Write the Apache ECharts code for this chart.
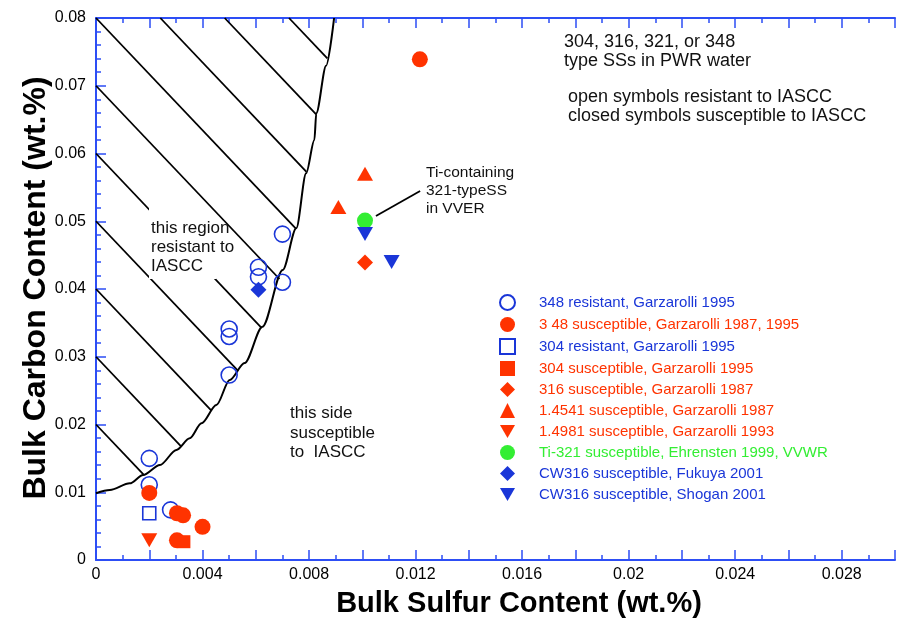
<!DOCTYPE html>
<html><head><meta charset="utf-8">
<script src="https://cdn.jsdelivr.net/npm/echarts@6/dist/echarts.min.js"></script>
<style>html,body{margin:0;padding:0;background:#fff}#c{width:898px;height:618px}</style>
</head><body><div id="c"></div>
<script>
const FONT = '"Liberation Sans", Arial, Helvetica, sans-serif';
const RED = '#ff3300', BLUE = '#1a36d8', GREEN = '#33ee33', AXIS = '#2d4ef5';

// Boundary curve between resistant (hatched) and susceptible regions
const boundaryS = [0, 0.00052, 0.00127, 0.00177, 0.0024, 0.00302, 0.00352, 0.00396, 0.00452, 0.00502, 0.00558, 0.00625, 0.00701, 0.00752, 0.00789, 0.0082, 0.00827, 0.00864, 0.00894];
const boundaryC = [0.00985, 0.01033, 0.01132, 0.01255, 0.01402, 0.01624, 0.01796, 0.02018, 0.02288, 0.02657, 0.02908, 0.03444, 0.0428, 0.04896, 0.05708, 0.062, 0.06593, 0.07296, 0.08];
// Hatch lines: C = offset - slope * S, clipped by the axes and the boundary
const hatchOffsets = [0.02, 0.03, 0.04, 0.05, 0.06, 0.07, 0.08, 0.09, 0.10, 0.11];
const hatchSlope = 4.14;

// Data series (bulk S, bulk C in wt.%)
const res348S = [0.002, 0.002, 0.0028, 0.005, 0.005, 0.005, 0.0061, 0.0061, 0.007, 0.007];
const res348C = [0.0150, 0.0111, 0.0074, 0.0341, 0.0330, 0.0273, 0.0432, 0.0418, 0.0481, 0.0410];
const sus348S = [0.002, 0.00304, 0.00327, 0.0040, 0.00304, 0.01216];
const sus348C = [0.0099, 0.0069, 0.0066, 0.0049, 0.0029, 0.0739];
const res304S = [0.002];  const res304C = [0.0069];
const sus304S = [0.0033]; const sus304C = [0.0027];
const sus316S = [0.0101]; const sus316C = [0.0439];
const sus4541S = [0.0101, 0.0091]; const sus4541C = [0.0570, 0.0521];
const sus4981S = [0.002]; const sus4981C = [0.0029];
const ti321S = [0.0101]; const ti321C = [0.0501];
const fukuyaS = [0.0061]; const fukuyaC = [0.0399];
const shoganS = [0.0101, 0.0111]; const shoganC = [0.0481, 0.0440];
// Leader line for the Ti-containing annotation
const leaderS = [0.01051, 0.01217];
const leaderC = [0.05077, 0.05446];

const legendNames = [
  '348 resistant, Garzarolli 1995',
  '3 48 susceptible, Garzarolli 1987, 1995',
  '304 resistant, Garzarolli 1995',
  '304 susceptible, Garzarolli 1995',
  '316 susceptible, Garzarolli 1987',
  '1.4541 susceptible, Garzarolli 1987',
  '1.4981 susceptible, Garzarolli 1993',
  'Ti-321 susceptible, Ehrensten 1999, VVWR',
  'CW316 susceptible, Fukuya 2001',
  'CW316 susceptible, Shogan 2001'
];
const legendColors = [BLUE, RED, BLUE, RED, RED, RED, RED, GREEN, BLUE, BLUE];
const DOWN_TRI = 'path://M0,0 L16,0 L8,14 Z';

const zip = (a, b) => a.map((v, i) => [v, b[i]]);

function hatchSegment(c0) {
  let start;
  if (c0 <= 0.08) start = [0, c0];
  else start = [(c0 - 0.08) / hatchSlope, 0.08];
  let end = null;
  for (let i = 0; i < boundaryS.length - 1; i++) {
    const f1 = boundaryC[i] - (c0 - hatchSlope * boundaryS[i]);
    const f2 = boundaryC[i + 1] - (c0 - hatchSlope * boundaryS[i + 1]);
    if (f1 <= 0 && f2 >= 0) {
      const t = f1 / (f1 - f2);
      const s = boundaryS[i] + t * (boundaryS[i + 1] - boundaryS[i]);
      end = [s, c0 - hatchSlope * s];
      break;
    }
  }
  return end ? [start, end] : [];
}

const hatchSeries = hatchOffsets.map((c0, i) => ({
  name: 'hatch' + i, type: 'line', data: hatchSegment(c0), symbol: 'none', silent: true,
  lineStyle: { color: '#000', width: 1.8 }, z: 1, animation: false
}));

function scatter(name, S, C, symbol, size, color, open) {
  return {
    name, type: 'scatter', data: zip(S, C), symbol, symbolSize: size,
    itemStyle: open ? { color: 'rgba(255,255,255,0)', borderColor: color, borderWidth: 1.6, opacity: 1 }
                    : { color, opacity: 1 },
    z: 5, animation: false
  };
}

const series = [
  ...hatchSeries,
  { name: 'boundary', type: 'line', data: zip(boundaryS, boundaryC), symbol: 'none', silent: true,
    smooth: 0.3, smoothMonotone: 'x', lineStyle: { color: '#000', width: 2 }, z: 2, animation: false },
  { name: 'leader', type: 'line', data: zip(leaderS, leaderC), symbol: 'none', silent: true,
    lineStyle: { color: '#000', width: 1.8 }, z: 2, animation: false },
  scatter(legendNames[0], res348S, res348C, 'circle', 16, BLUE, true),
  scatter(legendNames[1], sus348S, sus348C, 'circle', 16, RED, false),
  scatter(legendNames[2], res304S, res304C, 'rect', 13, BLUE, true),
  scatter(legendNames[3], sus304S, sus304C, 'rect', 13, RED, false),
  scatter(legendNames[4], sus316S, sus316C, 'diamond', 16, RED, false),
  scatter(legendNames[5], sus4541S, sus4541C, 'triangle', [16, 14], RED, false),
  scatter(legendNames[6], sus4981S, sus4981C, DOWN_TRI, [16, 14], RED, false),
  scatter(legendNames[7], ti321S, ti321C, 'circle', 16, GREEN, false),
  scatter(legendNames[8], fukuyaS, fukuyaC, 'diamond', 16, BLUE, false),
  scatter(legendNames[9], shoganS, shoganC, DOWN_TRI, [16, 14], BLUE, false)
];

const axisCommon = {
  type: 'value',
  axisLine: { show: true, onZero: false, lineStyle: { color: AXIS, width: 2 } },
  axisTick: { show: true, inside: true, length: 10, lineStyle: { color: AXIS, width: 1.5 } },
  minorTick: { show: true, length: 5, lineStyle: { color: AXIS, width: 1.5 } },
  splitLine: { show: false },
  minorSplitLine: { show: false }
};

const xFmt = v => (Math.round(v * 1000) % 4 === 0 ? String(+v.toFixed(3)) : '');
const yFmt = v => String(+v.toFixed(2));

function txt(x, y, text, extra) {
  return Object.assign({ type: 'text', x, y, z: 100,
    style: Object.assign({ text, font: '17px ' + FONT, fill: '#111', lineHeight: 19 }, extra || {}) });
}

const option = {
  backgroundColor: '#fff',
  animation: false,
  grid: { left: 96, right: 1, top: 18, bottom: 58, containLabel: false },
  xAxis: [
    Object.assign({}, axisCommon, { position: 'bottom', min: 0, max: 0.03, interval: 0.002,
      minorTick: Object.assign({}, axisCommon.minorTick, { splitNumber: 2 }),
      axisLabel: { show: true, formatter: xFmt, margin: 7, fontSize: 16, color: '#000', fontFamily: FONT } }),
    Object.assign({}, axisCommon, { position: 'top', min: 0, max: 0.03, interval: 0.002,
      minorTick: Object.assign({}, axisCommon.minorTick, { splitNumber: 2 }),
      axisLabel: { show: false } })
  ],
  yAxis: [
    Object.assign({}, axisCommon, { position: 'left', min: 0, max: 0.08, interval: 0.01,
      minorTick: Object.assign({}, axisCommon.minorTick, { splitNumber: 5 }),
      axisLabel: { show: true, formatter: yFmt, margin: 10, fontSize: 16, color: '#000', fontFamily: FONT } })
  ],
  legend: {
    data: legendNames.map((n, i) => ({ name: n, textStyle: { color: legendColors[i] } })),
    orient: 'vertical', left: 494, top: 289, itemWidth: 15, itemHeight: 15, itemGap: 6,
    textStyle: { fontSize: 15, lineHeight: 15, fontFamily: FONT, padding: [0, 0, 0, 19] },
    selectedMode: false
  },
  series,
  graphic: [
    // white mask behind the "this region" label so the hatching stops around it
    { type: 'polygon', z: 99, silent: true,
      shape: { points: [[149, 205], [200, 205], [222, 228], [236, 240], [236, 258], [216, 258], [216, 279], [149, 279]] },
      style: { fill: '#fff' } },
    txt(564, 33, '304, 316, 321, or 348\ntype SSs in PWR water', { font: '18px ' + FONT, lineHeight: 19 }),
    txt(568, 88, 'open symbols resistant to IASCC\nclosed symbols susceptible to IASCC', { font: '18px ' + FONT, lineHeight: 18.5 }),
    txt(426, 164, 'Ti-containing\n321-typeSS\nin VVER', { font: '15.5px ' + FONT, lineHeight: 18 }),
    txt(151, 219, 'this region\nresistant to\nIASCC'),
    txt(290, 404, 'this side\nsusceptible\nto  IASCC', { lineHeight: 19.3 }),
    txt(519, 604, 'Bulk Sulfur Content (wt.%)', { font: 'bold 29px ' + FONT, fill: '#000', textAlign: 'center', textVerticalAlign: 'middle' }),
    Object.assign(txt(36, 288, 'Bulk Carbon Content (wt.%)', { font: 'bold 32px ' + FONT, fill: '#000', textAlign: 'center', textVerticalAlign: 'middle' }), { rotation: Math.PI / 2 })
  ]
};

const chart = echarts.init(document.getElementById('c'), null, { renderer: 'canvas' });
chart.setOption(option);
</script>
</body></html>
